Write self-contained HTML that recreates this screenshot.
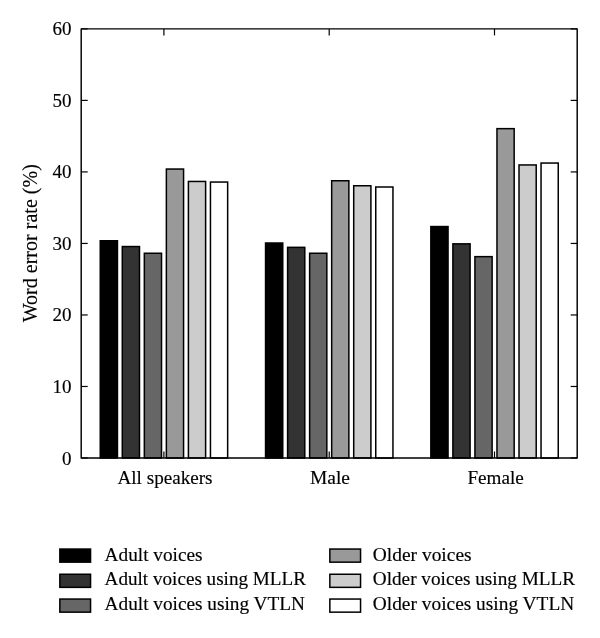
<!DOCTYPE html>
<html><head><meta charset="utf-8"><style>
html,body{margin:0;padding:0;background:#fff;}
svg{display:block;will-change:transform;}
.t{font-family:"Liberation Serif",serif;font-size:19px;fill:#000;stroke:#000;stroke-width:0.15px;}
.yt{font-size:20px;}
</style></head><body>
<svg width="600" height="638" viewBox="0 0 600 638">
<rect width="600" height="638" fill="#fff"/>
<rect x="100.25" y="240.75" width="17.20" height="217.25" fill="#000000" stroke="#000" stroke-width="1.5"/>
<rect x="122.29" y="246.55" width="17.20" height="211.45" fill="#333333" stroke="#000" stroke-width="1.5"/>
<rect x="144.33" y="253.25" width="17.20" height="204.75" fill="#666666" stroke="#000" stroke-width="1.5"/>
<rect x="166.37" y="169.05" width="17.20" height="288.95" fill="#999999" stroke="#000" stroke-width="1.5"/>
<rect x="188.41" y="181.45" width="17.20" height="276.55" fill="#cccccc" stroke="#000" stroke-width="1.5"/>
<rect x="210.45" y="182.05" width="17.20" height="275.95" fill="#ffffff" stroke="#000" stroke-width="1.5"/>
<rect x="265.55" y="243.00" width="17.20" height="215.00" fill="#000000" stroke="#000" stroke-width="1.5"/>
<rect x="287.59" y="247.35" width="17.20" height="210.65" fill="#333333" stroke="#000" stroke-width="1.5"/>
<rect x="309.63" y="253.25" width="17.20" height="204.75" fill="#666666" stroke="#000" stroke-width="1.5"/>
<rect x="331.67" y="180.75" width="17.20" height="277.25" fill="#999999" stroke="#000" stroke-width="1.5"/>
<rect x="353.71" y="185.75" width="17.20" height="272.25" fill="#cccccc" stroke="#000" stroke-width="1.5"/>
<rect x="375.75" y="187.00" width="17.20" height="271.00" fill="#ffffff" stroke="#000" stroke-width="1.5"/>
<rect x="430.85" y="226.55" width="17.20" height="231.45" fill="#000000" stroke="#000" stroke-width="1.5"/>
<rect x="452.89" y="243.85" width="17.20" height="214.15" fill="#333333" stroke="#000" stroke-width="1.5"/>
<rect x="474.93" y="256.65" width="17.20" height="201.35" fill="#666666" stroke="#000" stroke-width="1.5"/>
<rect x="496.97" y="128.65" width="17.20" height="329.35" fill="#999999" stroke="#000" stroke-width="1.5"/>
<rect x="519.01" y="164.95" width="17.20" height="293.05" fill="#cccccc" stroke="#000" stroke-width="1.5"/>
<rect x="541.05" y="163.05" width="17.20" height="294.95" fill="#ffffff" stroke="#000" stroke-width="1.5"/>
<rect x="81.2" y="28.88" width="496.00" height="429.12" fill="none" stroke="#000" stroke-width="1.45" stroke-linejoin="round"/>
<line x1="81.2" y1="458.00" x2="87.70" y2="458.00" stroke="#000" stroke-width="1.2"/>
<line x1="577.2" y1="458.00" x2="570.70" y2="458.00" stroke="#000" stroke-width="1.2"/>
<text x="71.5" y="464.50" text-anchor="end" class="t">0</text>
<line x1="81.2" y1="386.48" x2="87.70" y2="386.48" stroke="#000" stroke-width="1.2"/>
<line x1="577.2" y1="386.48" x2="570.70" y2="386.48" stroke="#000" stroke-width="1.2"/>
<text x="71.5" y="392.98" text-anchor="end" class="t">10</text>
<line x1="81.2" y1="314.96" x2="87.70" y2="314.96" stroke="#000" stroke-width="1.2"/>
<line x1="577.2" y1="314.96" x2="570.70" y2="314.96" stroke="#000" stroke-width="1.2"/>
<text x="71.5" y="321.46" text-anchor="end" class="t">20</text>
<line x1="81.2" y1="243.44" x2="87.70" y2="243.44" stroke="#000" stroke-width="1.2"/>
<line x1="577.2" y1="243.44" x2="570.70" y2="243.44" stroke="#000" stroke-width="1.2"/>
<text x="71.5" y="249.94" text-anchor="end" class="t">30</text>
<line x1="81.2" y1="171.92" x2="87.70" y2="171.92" stroke="#000" stroke-width="1.2"/>
<line x1="577.2" y1="171.92" x2="570.70" y2="171.92" stroke="#000" stroke-width="1.2"/>
<text x="71.5" y="178.42" text-anchor="end" class="t">40</text>
<line x1="81.2" y1="100.40" x2="87.70" y2="100.40" stroke="#000" stroke-width="1.2"/>
<line x1="577.2" y1="100.40" x2="570.70" y2="100.40" stroke="#000" stroke-width="1.2"/>
<text x="71.5" y="106.90" text-anchor="end" class="t">50</text>
<line x1="81.2" y1="28.88" x2="87.70" y2="28.88" stroke="#000" stroke-width="1.2"/>
<line x1="577.2" y1="28.88" x2="570.70" y2="28.88" stroke="#000" stroke-width="1.2"/>
<text x="71.5" y="35.38" text-anchor="end" class="t">60</text>
<line x1="163.9" y1="28.88" x2="163.9" y2="35.38" stroke="#000" stroke-width="1.2"/>
<line x1="163.9" y1="458.0" x2="163.9" y2="451.5" stroke="#000" stroke-width="1.2"/>
<line x1="329.2" y1="28.88" x2="329.2" y2="35.38" stroke="#000" stroke-width="1.2"/>
<line x1="329.2" y1="458.0" x2="329.2" y2="451.5" stroke="#000" stroke-width="1.2"/>
<line x1="494.5" y1="28.88" x2="494.5" y2="35.38" stroke="#000" stroke-width="1.2"/>
<line x1="494.5" y1="458.0" x2="494.5" y2="451.5" stroke="#000" stroke-width="1.2"/>
<text x="117.5" y="483.8" class="t" textLength="95.0" lengthAdjust="spacingAndGlyphs">All speakers</text>
<text x="310.0" y="483.8" class="t" textLength="40.0" lengthAdjust="spacingAndGlyphs">Male</text>
<text x="467.4" y="483.8" class="t" textLength="56.3" lengthAdjust="spacingAndGlyphs">Female</text>
<text transform="translate(36.8,322.3) rotate(-90)" class="t yt" textLength="158.2" lengthAdjust="spacingAndGlyphs">Word error rate (%)</text>
<rect x="59.85" y="549.05" width="30.70" height="13.10" fill="#000000" stroke="#000" stroke-width="1.5"/>
<text x="104.6" y="560.50" class="t" textLength="98.0" lengthAdjust="spacingAndGlyphs">Adult voices</text>
<rect x="59.85" y="574.25" width="30.70" height="13.10" fill="#333333" stroke="#000" stroke-width="1.5"/>
<text x="104.6" y="585.30" class="t" textLength="201.4" lengthAdjust="spacingAndGlyphs">Adult voices using MLLR</text>
<rect x="59.85" y="599.05" width="30.70" height="13.10" fill="#666666" stroke="#000" stroke-width="1.5"/>
<text x="104.6" y="610.10" class="t" textLength="200.4" lengthAdjust="spacingAndGlyphs">Adult voices using VTLN</text>
<rect x="329.85" y="549.05" width="30.70" height="13.10" fill="#999999" stroke="#000" stroke-width="1.5"/>
<text x="372.8" y="560.50" class="t" textLength="98.8" lengthAdjust="spacingAndGlyphs">Older voices</text>
<rect x="329.85" y="574.25" width="30.70" height="13.10" fill="#cccccc" stroke="#000" stroke-width="1.5"/>
<text x="372.8" y="585.30" class="t" textLength="202.3" lengthAdjust="spacingAndGlyphs">Older voices using MLLR</text>
<rect x="329.85" y="599.05" width="30.70" height="13.10" fill="#ffffff" stroke="#000" stroke-width="1.5"/>
<text x="372.8" y="610.10" class="t" textLength="201.5" lengthAdjust="spacingAndGlyphs">Older voices using VTLN</text>
</svg>
</body></html>
